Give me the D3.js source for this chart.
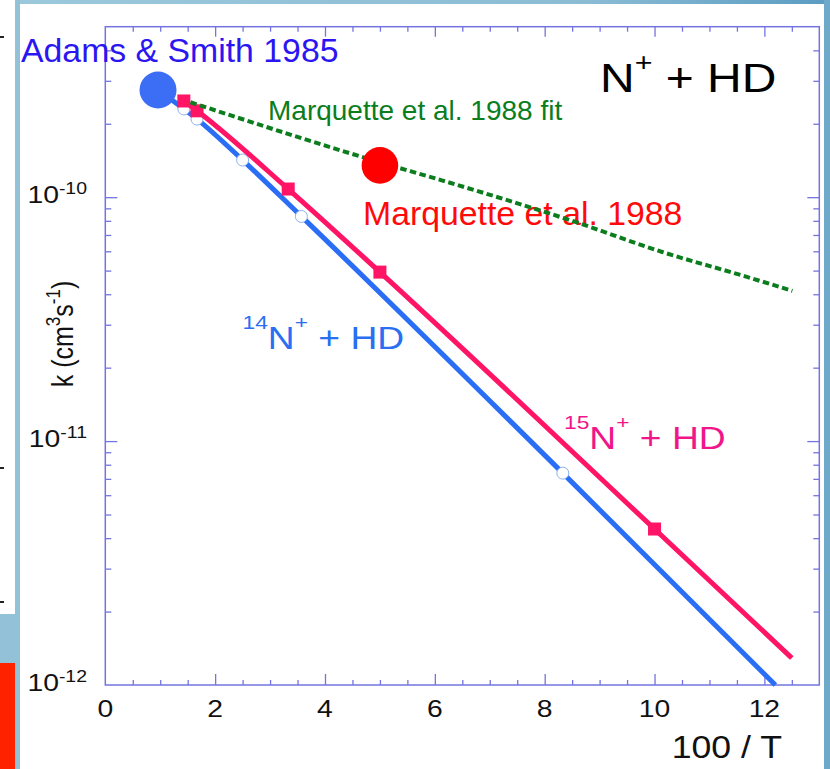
<!DOCTYPE html>
<html lang="en">

<head>
  <meta charset="utf-8">
  <title>N+ + HD rate coefficient</title>
  <script src="https://d3js.org/d3.v7.min.js"></script>
  <style>
    body {
      margin: 0;
      background: #ffffff;
    }
    text {
      font-family: "Liberation Sans", Arial, Helvetica, sans-serif;
    }
  </style>
</head>

<body>
  <div id="chart"></div>
  <script>
    var w = 830;
    var h = 769;

    // 14N+ + HD : curve and open circles (x = 100/T, k in cm3 s-1)
    var blueLineX = [0.96, 1.43, 1.67, 2.5, 3.57, 8.33, 12.2];
    var blueLineK = [2.75e-10, 2.30e-10, 2.09e-10, 1.42e-10, 8.34e-11, 7.39e-12, 1.0e-12];
    var blueMarkX = [1.43, 1.67, 2.5, 3.57, 8.33];
    var blueMarkK = [2.30e-10, 2.09e-10, 1.42e-10, 8.34e-11, 7.39e-12];

    // 15N+ + HD : curve and filled squares
    var pinkLineX = [1.43, 1.67, 3.33, 5, 10, 12.5];
    var pinkLineK = [2.48e-10, 2.26e-10, 1.08e-10, 4.93e-11, 4.36e-12, 1.29e-12];
    var pinkMarkX = [1.43, 1.67, 3.33, 5, 10];
    var pinkMarkK = [2.48e-10, 2.26e-10, 1.08e-10, 4.93e-11, 4.36e-12];

    // Marquette et al. 1988 fit (dotted)
    var fitX = [1.55, 5, 6.14, 8.57, 10.14, 11.59, 12.51];
    var fitK = [2.45e-10, 1.39e-10, 1.17e-10, 7.9e-11, 5.96e-11, 4.78e-11, 4.13e-11];

    // single measurements
    var adamsX = [0.96];
    var adamsK = [2.75e-10];
    var marqX = [5];
    var marqK = [1.35e-10];

    // axis ticks
    var xTickLabels = [0, 2, 4, 6, 8, 10, 12];
    var yTickExp = [-12, -11, -10];

    var svg = d3.select('#chart').append('svg')
      .attr('width', w)
      .attr('height', h);

    // slide background bits
    var grad = svg.append('defs').append('linearGradient')
      .attr('id', 'topband');
    grad.append('stop').attr('offset', '0%').attr('stop-color', '#9cc8dc');
    grad.append('stop').attr('offset', '70%').attr('stop-color', '#8bbcd4');
    grad.append('stop').attr('offset', '100%').attr('stop-color', '#5b9cc2');

    svg.append('rect').attr('x', 15).attr('y', 0).attr('width', 815).attr('height', 4)
      .style('fill', 'url(#topband)');
    svg.append('rect').attr('x', 15).attr('y', 0).attr('width', 5).attr('height', h)
      .style('fill', '#93c2d8');
    svg.append('rect').attr('x', 824).attr('y', 0).attr('width', 6).attr('height', h)
      .style('fill', '#6fa9c9');
    svg.append('rect').attr('x', 0).attr('y', 614).attr('width', 15).attr('height', 49)
      .style('fill', '#93c2d8');
    svg.append('rect').attr('x', 0).attr('y', 663).attr('width', 15).attr('height', 106)
      .style('fill', '#ff2200');
    [37, 468, 602].forEach(function (yy) {
      svg.append('rect').attr('x', 0).attr('y', yy - 1).attr('width', 4).attr('height', 2)
        .style('fill', '#222');
    });

    var x = d3.scaleLinear().domain([0, 13]).range([105.3, 819.3]);
    var y = d3.scaleLog().domain([1e-12, 5e-10]).range([685, 26.7]);

    var axisColor = '#7474e0';
    var stretch = 1.18; // the plot text is a little wide

    // tick values
    var xMinor = d3.range(1, 26).map(function (i) { return i * 0.5; })
      .filter(function (v) { return v % 2 !== 0; });
    var xMajor = [2, 4, 6, 8, 10, 12];
    var yMinor = [];
    [-12, -11, -10].forEach(function (e) {
      for (var m = 2; m <= 9; m++) {
        var v = m * Math.pow(10, e);
        if (v < 5e-10) yMinor.push(v);
      }
    });
    var yMajor = [1e-11, 1e-10];

    function drawAxis(axis, tx, ty) {
      var g = svg.append('g')
        .attr('transform', 'translate(' + tx + ',' + ty + ')')
        .call(axis);
      g.select('.domain').remove();
      g.selectAll('line').attr('stroke', axisColor).attr('stroke-width', 1.3);
      g.selectAll('text').remove();
    }

    drawAxis(d3.axisBottom(x).tickValues(xMinor).tickSize(-5).tickFormat(''), 0, 685);
    drawAxis(d3.axisBottom(x).tickValues(xMajor).tickSize(-11).tickFormat(''), 0, 685);
    drawAxis(d3.axisTop(x).tickValues(xMinor).tickSize(-5).tickFormat(''), 0, 26.7);
    drawAxis(d3.axisTop(x).tickValues(xMajor).tickSize(-10).tickFormat(''), 0, 26.7);
    drawAxis(d3.axisLeft(y).tickValues(yMinor).tickSize(-6).tickFormat(''), 105.3, 0);
    drawAxis(d3.axisLeft(y).tickValues(yMajor).tickSize(-12).tickFormat(''), 105.3, 0);
    drawAxis(d3.axisRight(y).tickValues(yMinor).tickSize(-6).tickFormat(''), 819.3, 0);
    drawAxis(d3.axisRight(y).tickValues(yMajor).tickSize(-12).tickFormat(''), 819.3, 0);

    // frame
    svg.append('rect')
      .attr('x', x(0)).attr('y', y(5e-10))
      .attr('width', x(13) - x(0)).attr('height', y(1e-12) - y(5e-10))
      .style('fill', 'none')
      .style('stroke', axisColor)
      .style('stroke-width', 1.5);

    // x tick labels
    svg.selectAll('text.xlab')
      .data(xTickLabels)
      .enter().append('text')
      .attr('class', 'xlab')
      .attr('transform', function (d) {
        return 'translate(' + x(d) + ',717) scale(' + stretch + ',1)';
      })
      .attr('text-anchor', 'middle')
      .style('font-size', '24px')
      .style('fill', '#111')
      .text(function (d) { return d; });

    // y tick labels 10^n
    var ylab = svg.selectAll('text.ylab')
      .data(yTickExp)
      .enter().append('text')
      .attr('class', 'ylab')
      .attr('transform', function (d) {
        return 'translate(87,' + (y(Math.pow(10, d)) + 5.5) + ') scale(' + stretch + ',1)';
      })
      .attr('text-anchor', 'end')
      .style('font-size', '24px')
      .style('fill', '#111');
    ylab.append('tspan').text('10');
    ylab.append('tspan')
      .attr('dy', -9)
      .style('font-size', '16.5px')
      .text(function (d) { return '-' + Math.abs(d); });

    // axis titles
    svg.append('text')
      .attr('transform', 'translate(782,758) scale(1.15,1)')
      .attr('text-anchor', 'end')
      .style('font-size', '31px')
      .style('fill', '#111')
      .text('100 / T');

    var yt = svg.append('text')
      .attr('transform', 'translate(73,334) scale(' + stretch + ',1) rotate(-90)')
      .attr('text-anchor', 'middle')
      .style('font-size', '25px')
      .style('fill', '#111');
    yt.append('tspan').text('k (cm');
    yt.append('tspan').attr('dy', -11).style('font-size', '17px').text('3');
    yt.append('tspan').attr('dy', 11).text('s');
    yt.append('tspan').attr('dy', -11).style('font-size', '17px').text('-1');
    yt.append('tspan').attr('dy', 11).text(')');

    // title N+ + HD
    var title = svg.append('text')
      .attr('transform', 'translate(600,91.7) scale(1.17,1)')
      .style('font-size', '41px')
      .style('fill', '#000');
    title.append('tspan').text('N');
    title.append('tspan').attr('dy', -21).style('font-size', '26px').text('+');
    title.append('tspan').attr('dy', 21).text(' + HD');

    // isotope labels
    function isoLabel(tx, ty, mass, color) {
      var t = svg.append('text')
        .attr('transform', 'translate(' + tx + ',' + ty + ') scale(1.2,1)')
        .style('font-size', '31px')
        .style('fill', color);
      t.append('tspan').attr('dy', -20).style('font-size', '19px').text(mass);
      t.append('tspan').attr('dy', 20).text('N');
      t.append('tspan').attr('dy', -20).style('font-size', '19px').text('+');
      t.append('tspan').attr('dy', 20).text(' + HD');
    }
    isoLabel(242.5, 349.3, '14', '#2a6ef2');
    isoLabel(564, 449.3, '15', '#f0168a');

    // overlay labels
    svg.append('text')
      .attr('x', 21).attr('y', 62)
      .style('font-size', '33.8px')
      .style('fill', '#2b16f2')
      .text('Adams & Smith 1985');

    svg.append('text')
      .attr('x', 268).attr('y', 119.5)
      .style('font-size', '28px')
      .style('fill', '#0b7d1c')
      .text('Marquette et al. 1988 fit');

    svg.append('text')
      .attr('x', 363).attr('y', 225)
      .style('font-size', '33.8px')
      .style('fill', '#ff0a0a')
      .text('Marquette et al. 1988');

    // curves
    function pts(xs, ks) {
      return xs.map(function (v, i) { return [v, ks[i]]; });
    }
    var line = d3.line()
      .x(function (d) { return x(d[0]); })
      .y(function (d) { return y(d[1]); })
      .curve(d3.curveMonotoneX);

    svg.append('path')
      .datum(pts(blueLineX, blueLineK))
      .attr('d', line)
      .style('fill', 'none')
      .style('stroke', '#2a6ef5')
      .style('stroke-width', 5);

    svg.selectAll('circle.open')
      .data(pts(blueMarkX, blueMarkK))
      .enter().append('circle')
      .attr('class', 'open')
      .attr('cx', function (d) { return x(d[0]); })
      .attr('cy', function (d) { return y(d[1]); })
      .attr('r', 6)
      .style('fill', '#fff')
      .style('stroke', '#8fb0f2')
      .style('stroke-width', 1);

    svg.append('path')
      .datum(pts(pinkLineX, pinkLineK))
      .attr('d', line)
      .style('fill', 'none')
      .style('stroke', '#ff1466')
      .style('stroke-width', 5);

    svg.selectAll('rect.sq')
      .data(pts(pinkMarkX, pinkMarkK))
      .enter().append('rect')
      .attr('class', 'sq')
      .attr('x', function (d) { return x(d[0]) - 6.5; })
      .attr('y', function (d) { return y(d[1]) - 6.5; })
      .attr('width', 13)
      .attr('height', 13)
      .style('fill', '#ff1466');

    svg.append('path')
      .datum(pts(fitX, fitK))
      .attr('d', line)
      .style('fill', 'none')
      .style('stroke', '#0b7d1c')
      .style('stroke-width', 4)
      .style('stroke-dasharray', '6.5,3.5');

    // big points
    svg.selectAll('circle.adams')
      .data(pts(adamsX, adamsK))
      .enter().append('circle')
      .attr('class', 'adams')
      .attr('cx', function (d) { return x(d[0]); })
      .attr('cy', function (d) { return y(d[1]); })
      .attr('r', 18.5)
      .style('fill', '#3b6ef5');

    svg.selectAll('circle.marq')
      .data(pts(marqX, marqK))
      .enter().append('circle')
      .attr('class', 'marq')
      .attr('cx', function (d) { return x(d[0]); })
      .attr('cy', function (d) { return y(d[1]); })
      .attr('r', 18.3)
      .style('fill', '#ff0000');
  </script>
</body>

</html>
